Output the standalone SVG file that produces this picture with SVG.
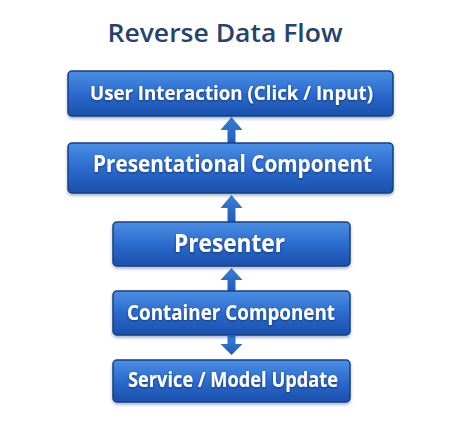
<svg xmlns="http://www.w3.org/2000/svg" width="462" height="440" viewBox="0 0 462 440">
  <defs>
    <linearGradient id="boxGrad" x1="0" y1="0" x2="0" y2="1">
      <stop offset="0" stop-color="#4a8fe3"/>
      <stop offset="0.5" stop-color="#2c6bce"/>
      <stop offset="1" stop-color="#1a50ab"/>
    </linearGradient>
    <linearGradient id="arrowGrad" x1="0" y1="0" x2="0" y2="1">
      <stop offset="0" stop-color="#3a7fd8"/>
      <stop offset="1" stop-color="#1f5cb8"/>
    </linearGradient>
    <filter id="shadow" x="-10%" y="-20%" width="120%" height="150%">
      <feDropShadow dx="0" dy="2" stdDeviation="1.5" flood-color="#0a2a60" flood-opacity="0.35"/>
    </filter>
    <filter id="textShadow" x="-5%" y="-20%" width="110%" height="150%">
      <feDropShadow dx="0" dy="1" stdDeviation="0.8" flood-color="#0a2050" flood-opacity="0.7"/>
    </filter>
  </defs>
  <style>
    .box { fill: url(#boxGrad); stroke: #173f87; stroke-width: 1.5; filter: url(#shadow); }
    .label { fill: #ffffff; font-family: "Open Sans", "Noto Sans", "Liberation Sans", sans-serif; font-weight: 700; text-anchor: middle; filter: url(#textShadow); }
    .title { fill: #26436f; font-family: "Open Sans", "Noto Sans", "Liberation Sans", sans-serif; font-weight: 600; font-size: 26px; text-anchor: middle; }
    .arrow { fill: url(#arrowGrad); }
  </style>
  <rect x="0" y="0" width="462" height="440" fill="#ffffff"/>

  <text class="title" x="225" y="42" textLength="235" lengthAdjust="spacingAndGlyphs">Reverse Data Flow</text>

  <g id="connectors">
    <polygon class="arrow" points="231.5,117 242.5,130 235.5,130 235.5,143 227.5,143 227.5,130 220.5,130"/>
    <polygon class="arrow" points="231.5,195 242.5,208 235.5,208 235.5,222 227.5,222 227.5,208 220.5,208"/>
    <polygon class="arrow" points="231.5,268 242.5,280 235.5,280 235.5,291 227.5,291 227.5,280 220.5,280"/>
    <polygon class="arrow" points="227.5,336 235.5,336 235.5,344 242.5,344 231.5,355 220.5,344 227.5,344"/>
  </g>

  <g id="node-user-interaction">
    <rect class="box" x="68" y="71" width="325" height="45" rx="4"/>
    <text class="label" x="231.5" y="100" font-size="20" textLength="283" lengthAdjust="spacingAndGlyphs">User Interaction (Click / Input)</text>
  </g>

  <g id="node-presentational">
    <rect class="box" x="68" y="143" width="325" height="50" rx="4"/>
    <text class="label" x="232.5" y="172" font-size="23.5" textLength="279" lengthAdjust="spacingAndGlyphs">Presentational Component</text>
  </g>

  <g id="node-presenter">
    <rect class="box" x="113" y="222" width="237" height="44" rx="4"/>
    <text class="label" x="229.5" y="252" font-size="25" textLength="111" lengthAdjust="spacingAndGlyphs">Presenter</text>
  </g>

  <g id="node-container">
    <rect class="box" x="113" y="291" width="237" height="44" rx="4"/>
    <text class="label" x="231" y="320" font-size="21" textLength="208" lengthAdjust="spacingAndGlyphs">Container Component</text>
  </g>

  <g id="node-service">
    <rect class="box" x="113" y="360" width="237" height="42" rx="4"/>
    <text class="label" x="233" y="387" font-size="21" textLength="210" lengthAdjust="spacingAndGlyphs">Service / Model Update</text>
  </g>
</svg>
